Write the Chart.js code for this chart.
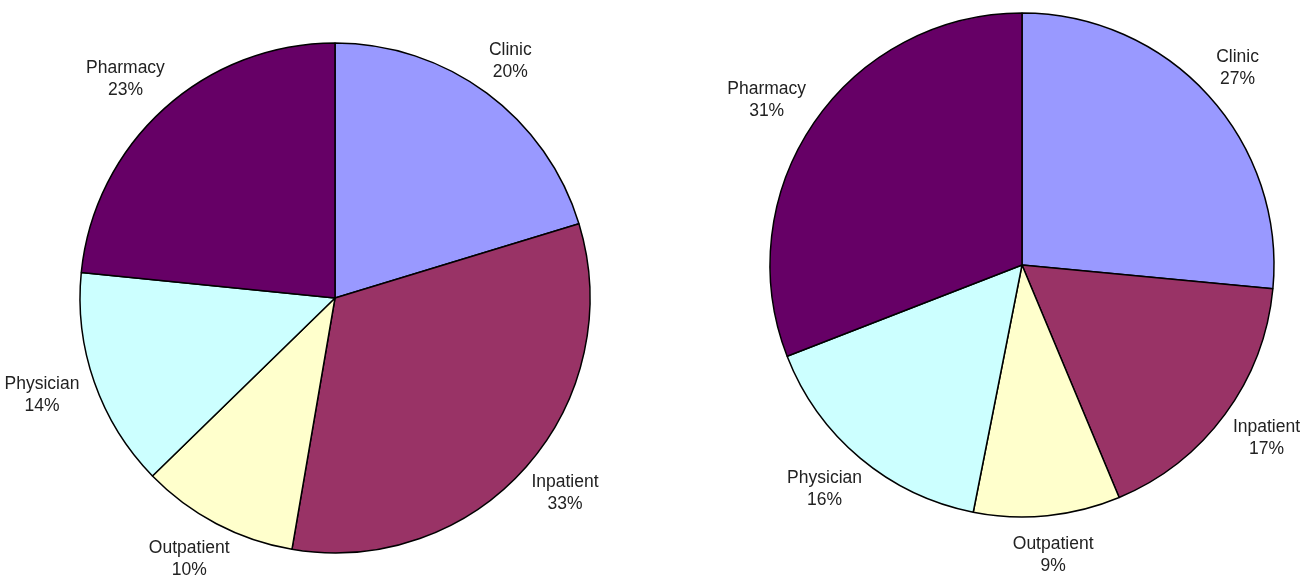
<!DOCTYPE html>
<html>
<head>
<meta charset="utf-8">
<script src="https://cdn.jsdelivr.net/npm/chart.js@4"></script>
<style>
  html, body { margin: 0; padding: 0; background: #fff; }
  body { width: 1306px; height: 576px; position: relative; overflow: hidden; }
  canvas { position: absolute; top: 0; }
</style>
</head>
<body>
<canvas id="c1" width="653" height="576" style="left:0"></canvas>
<canvas id="c2" width="653" height="576" style="left:653px"></canvas>
<script>
const categories = ['Clinic', 'Inpatient', 'Outpatient', 'Physician', 'Pharmacy'];
// slice shares estimated from the slice geometry
const leftValues = [20.3, 32.4, 10.0, 13.9, 23.4];
const rightValues = [26.5, 17.2, 9.4, 16.0, 30.9];
// percentages as printed on the chart
const leftPercentLabels = ['20%', '33%', '10%', '14%', '23%'];
const rightPercentLabels = ['27%', '17%', '9%', '16%', '31%'];
const sliceColors = ['#9999FF', '#993366', '#FFFFCC', '#CCFFFF', '#660066'];

const FONT = '17.5px "Liberation Sans", Arial, sans-serif';
const LINE_H = 22;
const GAP = 18;

const outsideLabels = {
  id: 'outsideLabels',
  afterDatasetsDraw(chart, args, opts) {
    const ctx = chart.ctx;
    const meta = chart.getDatasetMeta(0);
    const pct = opts.percentLabels;
    ctx.save();
    ctx.font = FONT;
    ctx.fillStyle = '#222';
    ctx.textAlign = 'center';
    ctx.textBaseline = 'middle';
    meta.data.forEach((arc, i) => {
      const p = arc.getProps(['x', 'y', 'startAngle', 'endAngle', 'outerRadius'], true);
      const mid = (p.startAngle + p.endAngle) / 2;
      const dx = Math.cos(mid), dy = Math.sin(mid);
      const lines = [chart.data.labels[i], pct[i]];
      const w = Math.max(...lines.map(t => ctx.measureText(t).width));
      const h = LINE_H * lines.length;
      const cx = p.x + dx * (p.outerRadius + GAP) + dx * w / 2;
      const cy = p.y + dy * (p.outerRadius + GAP) + dy * h / 2;
      lines.forEach((t, k) => {
        ctx.fillText(t, cx, cy + (k - (lines.length - 1) / 2) * LINE_H);
      });
    });
    ctx.restore();
  }
};

function makePie(id, values, pctLabels, radius, padding) {
  return new Chart(document.getElementById(id), {
    type: 'pie',
    data: {
      labels: categories,
      datasets: [{
        data: values,
        backgroundColor: sliceColors,
        borderColor: '#000',
        borderWidth: 1.5
      }]
    },
    options: {
      responsive: false,
      animation: false,
      radius: radius,
      layout: { padding: padding },
      plugins: {
        legend: { display: false },
        tooltip: { enabled: false },
        outsideLabels: { percentLabels: pctLabels }
      }
    },
    plugins: [outsideLabels]
  });
}

makePie('c1', leftValues, leftPercentLabels, 255, { left: 80, right: 63, top: 43, bottom: 23 });
makePie('c2', rightValues, rightPercentLabels, 252, { left: 117, right: 32, top: 13, bottom: 59 });
</script>
</body>
</html>
